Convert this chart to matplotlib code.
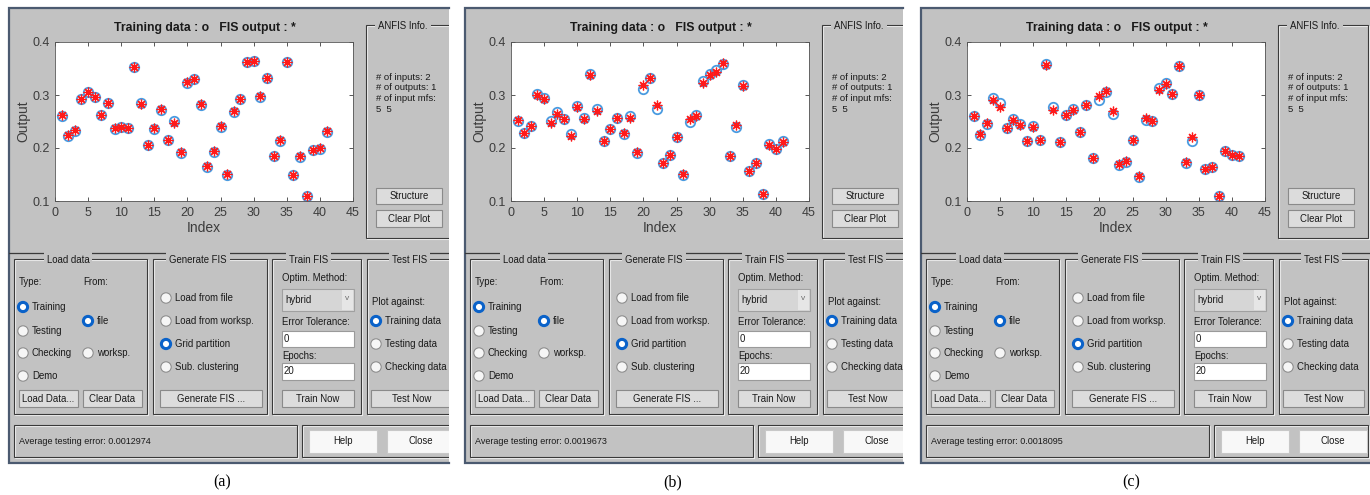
import matplotlib
matplotlib.use('Agg')
import matplotlib.pyplot as plt
from matplotlib.patches import Rectangle, Circle

# data
index = list(range(1, 42))

train_a = [0.261, 0.223, 0.233, 0.292, 0.306, 0.297, 0.262, 0.284, 0.236, 0.240, 0.238, 0.353, 0.284, 0.205,
           0.236, 0.272, 0.216, 0.250, 0.191, 0.323, 0.330, 0.282, 0.165, 0.193, 0.240, 0.150, 0.268, 0.293,
           0.362, 0.364, 0.297, 0.333, 0.184, 0.214, 0.363, 0.149, 0.183, 0.109, 0.196, 0.199, 0.230]
fis_a = [0.262, 0.224, 0.234, 0.292, 0.305, 0.297, 0.262, 0.284, 0.237, 0.240, 0.237, 0.352, 0.283, 0.206,
         0.237, 0.273, 0.216, 0.248, 0.192, 0.324, 0.331, 0.283, 0.166, 0.194, 0.241, 0.151, 0.269, 0.293,
         0.362, 0.365, 0.298, 0.333, 0.185, 0.215, 0.362, 0.150, 0.184, 0.110, 0.197, 0.200, 0.232]

train_b = [0.250, 0.229, 0.241, 0.301, 0.294, 0.251, 0.267, 0.255, 0.226, 0.279, 0.257, 0.339, 0.274, 0.213,
           0.235, 0.257, 0.227, 0.261, 0.191, 0.311, 0.333, 0.274, 0.172, 0.187, 0.220, 0.150, 0.249, 0.263,
           0.327, 0.339, 0.347, 0.359, 0.184, 0.240, 0.319, 0.156, 0.172, 0.114, 0.207, 0.199, 0.213]
fis_b = [0.252, 0.229, 0.241, 0.300, 0.293, 0.247, 0.265, 0.255, 0.223, 0.277, 0.254, 0.338, 0.270, 0.213,
         0.235, 0.256, 0.228, 0.257, 0.192, 0.318, 0.333, 0.281, 0.172, 0.187, 0.221, 0.151, 0.255, 0.261,
         0.323, 0.338, 0.343, 0.360, 0.184, 0.243, 0.317, 0.157, 0.172, 0.114, 0.206, 0.198, 0.212]

train_c = [0.260, 0.225, 0.246, 0.294, 0.285, 0.237, 0.254, 0.245, 0.214, 0.241, 0.216, 0.358, 0.277, 0.212,
           0.262, 0.273, 0.231, 0.282, 0.182, 0.291, 0.306, 0.264, 0.168, 0.173, 0.215, 0.146, 0.252, 0.251,
           0.314, 0.323, 0.301, 0.354, 0.172, 0.214, 0.300, 0.160, 0.164, 0.110, 0.194, 0.186, 0.184]
fis_c = [0.260, 0.226, 0.247, 0.290, 0.277, 0.238, 0.252, 0.244, 0.213, 0.239, 0.216, 0.357, 0.272, 0.211,
         0.262, 0.272, 0.230, 0.282, 0.182, 0.299, 0.308, 0.270, 0.169, 0.176, 0.215, 0.147, 0.257, 0.250,
         0.310, 0.320, 0.301, 0.354, 0.173, 0.220, 0.300, 0.160, 0.165, 0.110, 0.194, 0.187, 0.185]

errors = ['0.0012974', '0.0019673', '0.0018095']
captions = ['(a)', '(b)', '(c)']
xticks = [0, 5, 10, 15, 20, 25, 30, 35, 40, 45]
yticks = [0.1, 0.2, 0.3, 0.4]

GUI_FONT = ['Liberation Sans Narrow', 'Liberation Sans', 'DejaVu Sans']
PANEL_BG = '#c2c2c2'
W, H = 1370, 495

fig = plt.figure(figsize=(W / 100, H / 100), dpi=100)
fig.patch.set_facecolor('white')
bg = fig.add_axes([0, 0, 1, 1])
bg.set_xlim(0, W)
bg.set_ylim(H, 0)
bg.axis('off')


def add(patch, clip):
    bg.add_patch(patch)
    patch.set_clip_path(clip)
    return patch


def txt(x, y, s, clip, size=6.9, ha='left', **kw):
    t = bg.text(x, y, s, ha=ha, va='center', fontsize=size, family=GUI_FONT, color='#1a1a1a', **kw)
    t.set_clip_path(clip)
    return t


def frame(x0, y0, x1, y1, clip, title=None, tx=None):
    add(Rectangle((x0 + 1, y0 + 1), x1 - x0, y1 - y0, fill=False, ec='#f0f0f0', lw=0.8), clip)
    add(Rectangle((x0, y0), x1 - x0, y1 - y0, fill=False, ec='#3a3a3a', lw=0.8), clip)
    if title:
        txt(tx, y0 + 1, title, clip, ha='center',
            bbox=dict(boxstyle='square,pad=0.3', fc=PANEL_BG, ec='none'))


def button(x0, y0, x1, y1, label, clip, fc='#dcdcdc', ec='#8a8a8a'):
    add(Rectangle((x0, y0), x1 - x0, y1 - y0, fc=fc, ec=ec, lw=0.8), clip)
    txt((x0 + x1) / 2, (y0 + y1) / 2, label, clip, ha='center')


def editbox(x0, y0, x1, y1, label, clip):
    add(Rectangle((x0, y0), x1 - x0, y1 - y0, fc='white', ec='#9a9a9a', lw=0.8), clip)
    txt(x0 + 2, (y0 + y1) / 2, label, clip)


def radio(cx, cy, label, sel, clip):
    if sel:
        add(Circle((cx, cy), 4.6, fc='white', ec='#0a62c9', lw=2.2), clip)
    else:
        add(Circle((cx, cy), 5.2, fc='#f6f6f6', ec='#8e8e8e', lw=0.8), clip)
    txt(cx + 9, cy, label, clip)


def draw_panel(px, right, train, fis, err, cap):
    top, bottom = 8, 463
    clip = Rectangle((px, top), right - px, bottom - top, transform=bg.transData)
    bg.add_patch(Rectangle((px, top), right - px, bottom - top, fc=PANEL_BG, ec='none'))
    # window border
    bg.plot([right, px, px, right], [top, top, bottom, bottom], color='#4b5a70', lw=1.6,
            solid_joinstyle='miter')

    # --- upper plot area ---
    bg.text(px + 196, 28, 'Training data : o   FIS output : *', ha='center', va='center',
            fontsize=8.8, fontweight='bold', family=GUI_FONT, color='#1a1a1a')
    ax = fig.add_axes([(px + 46) / W, 1 - 201 / H, 298 / W, 159 / H])
    ax.plot(index, train, 'o', mfc='none', mec='#4a9be0', mew=1.3, ms=6.8)
    ax.plot(index, fis, marker=(8, 2, 0), ls='none', color='#ff1a1a', mew=0.9, ms=7)
    ax.set_xlim(0, 45)
    ax.set_ylim(0.1, 0.4)
    ax.set_xticks(xticks)
    ax.set_yticks(yticks)
    ax.set_yticklabels([f'{v:.1f}' for v in yticks])
    ax.tick_params(direction='in', length=3, width=0.6, labelsize=9, colors='#3c3c3c',
                   top=True, right=True, pad=4)
    for s in ax.spines.values():
        s.set_color('#555555')
        s.set_linewidth(0.6)
    for lab in ax.get_xticklabels() + ax.get_yticklabels():
        lab.set_family(GUI_FONT)
    ax.set_xlabel('Index', fontsize=10, family=GUI_FONT, color='#3c3c3c', labelpad=2)
    ax.set_ylabel('Output', fontsize=10, family=GUI_FONT, color='#3c3c3c', labelpad=1)

    # ANFIS info block
    frame(px + 357, 25, px + 447, 238, clip, 'ANFIS Info.', px + 394)
    for k, s in enumerate(['# of inputs: 2', '# of outputs: 1', '# of input mfs:', '5  5']):
        txt(px + 367, 77 + k * 10.7, s, clip, size=6.8)
    button(px + 367, 188, px + 433, 204, 'Structure', clip)
    button(px + 367, 210, px + 433, 227, 'Clear Plot', clip)

    l = bg.plot([px, right], [253, 253], color='#3a3a3a', lw=0.9)[0]
    l.set_clip_path(clip)

    # --- Load data ---
    frame(px + 5, 259, px + 138, 414, clip, 'Load data', px + 59)
    txt(px + 10, 282, 'Type:', clip)
    txt(px + 74, 282, 'From:', clip)
    for k, (yy, s) in enumerate([(307, 'Training'), (331, 'Testing'), (353, 'Checking'), (376, 'Demo')]):
        radio(px + 14, yy, s, k == 0, clip)
    radio(px + 79, 321, 'file', True, clip)
    radio(px + 79, 353, 'worksp.', False, clip)
    button(px + 10, 390, px + 69, 407, 'Load Data...', clip)
    button(px + 74, 390, px + 133, 407, 'Clear Data', clip)

    # --- Generate FIS ---
    frame(px + 144, 259, px + 258, 414, clip, 'Generate FIS', px + 189)
    for k, (yy, s) in enumerate([(298, 'Load from file'), (321, 'Load from worksp.'),
                                 (344, 'Grid partition'), (367, 'Sub. clustering')]):
        radio(px + 157, yy, s, k == 2, clip)
    button(px + 151, 390, px + 253, 407, 'Generate FIS ...', clip)

    # --- Train FIS ---
    frame(px + 263, 259, px + 352, 414, clip, 'Train FIS', px + 300)
    txt(px + 273, 278, 'Optim. Method:', clip)
    add(Rectangle((px + 273, 289), 72, 22, fc='#d6d6d6', ec='#a0a0a0', lw=0.8), clip)
    add(Rectangle((px + 333, 290), 11, 20, fc='#e6e6e6', ec='none'), clip)
    txt(px + 276, 300, 'hybrid', clip)
    txt(px + 338.5, 299, 'v', clip, size=6, ha='center', alpha=0.6)
    txt(px + 273, 322, 'Error Tolerance:', clip)
    editbox(px + 273, 331, px + 345, 347, '0', clip)
    txt(px + 273, 356, 'Epochs:', clip)
    editbox(px + 273, 363, px + 345, 380, '20', clip)
    button(px + 273, 390, px + 345, 407, 'Train Now', clip)

    # --- Test FIS ---
    frame(px + 358, 259, px + 447, 414, clip, 'Test FIS', px + 401)
    txt(px + 363, 302, 'Plot against:', clip)
    for k, (yy, s) in enumerate([(321, 'Training data'), (344, 'Testing data'), (367, 'Checking data')]):
        radio(px + 367, yy, s, k == 0, clip)
    button(px + 362, 390, px + 443, 407, 'Test Now', clip)

    # --- status line and Help / Close ---
    frame(px + 5, 425, px + 288, 457, clip)
    txt(px + 10, 441, 'Average testing error: ' + err, clip, size=6.5)
    frame(px + 293, 425, px + 447, 457, clip)
    button(px + 300, 430, px + 368, 453, 'Help', clip, fc='#f8f8f8', ec='#c8c8c8')
    button(px + 378, 430, px + 446, 453, 'Close', clip, fc='#f8f8f8', ec='#c8c8c8')

    bg.text(cap[0], 482, cap[1], ha='center', va='center', fontsize=11.5,
            family=['Liberation Serif', 'DejaVu Serif'], color='black')


draw_panel(9, 449, train_a, fis_a, errors[0], (222, captions[0]))
draw_panel(465, 903, train_b, fis_b, errors[1], (673, captions[1]))
draw_panel(921, 1370, train_c, fis_c, errors[2], (1131, captions[2]))

fig.savefig('out.png', dpi=100, facecolor='white')
